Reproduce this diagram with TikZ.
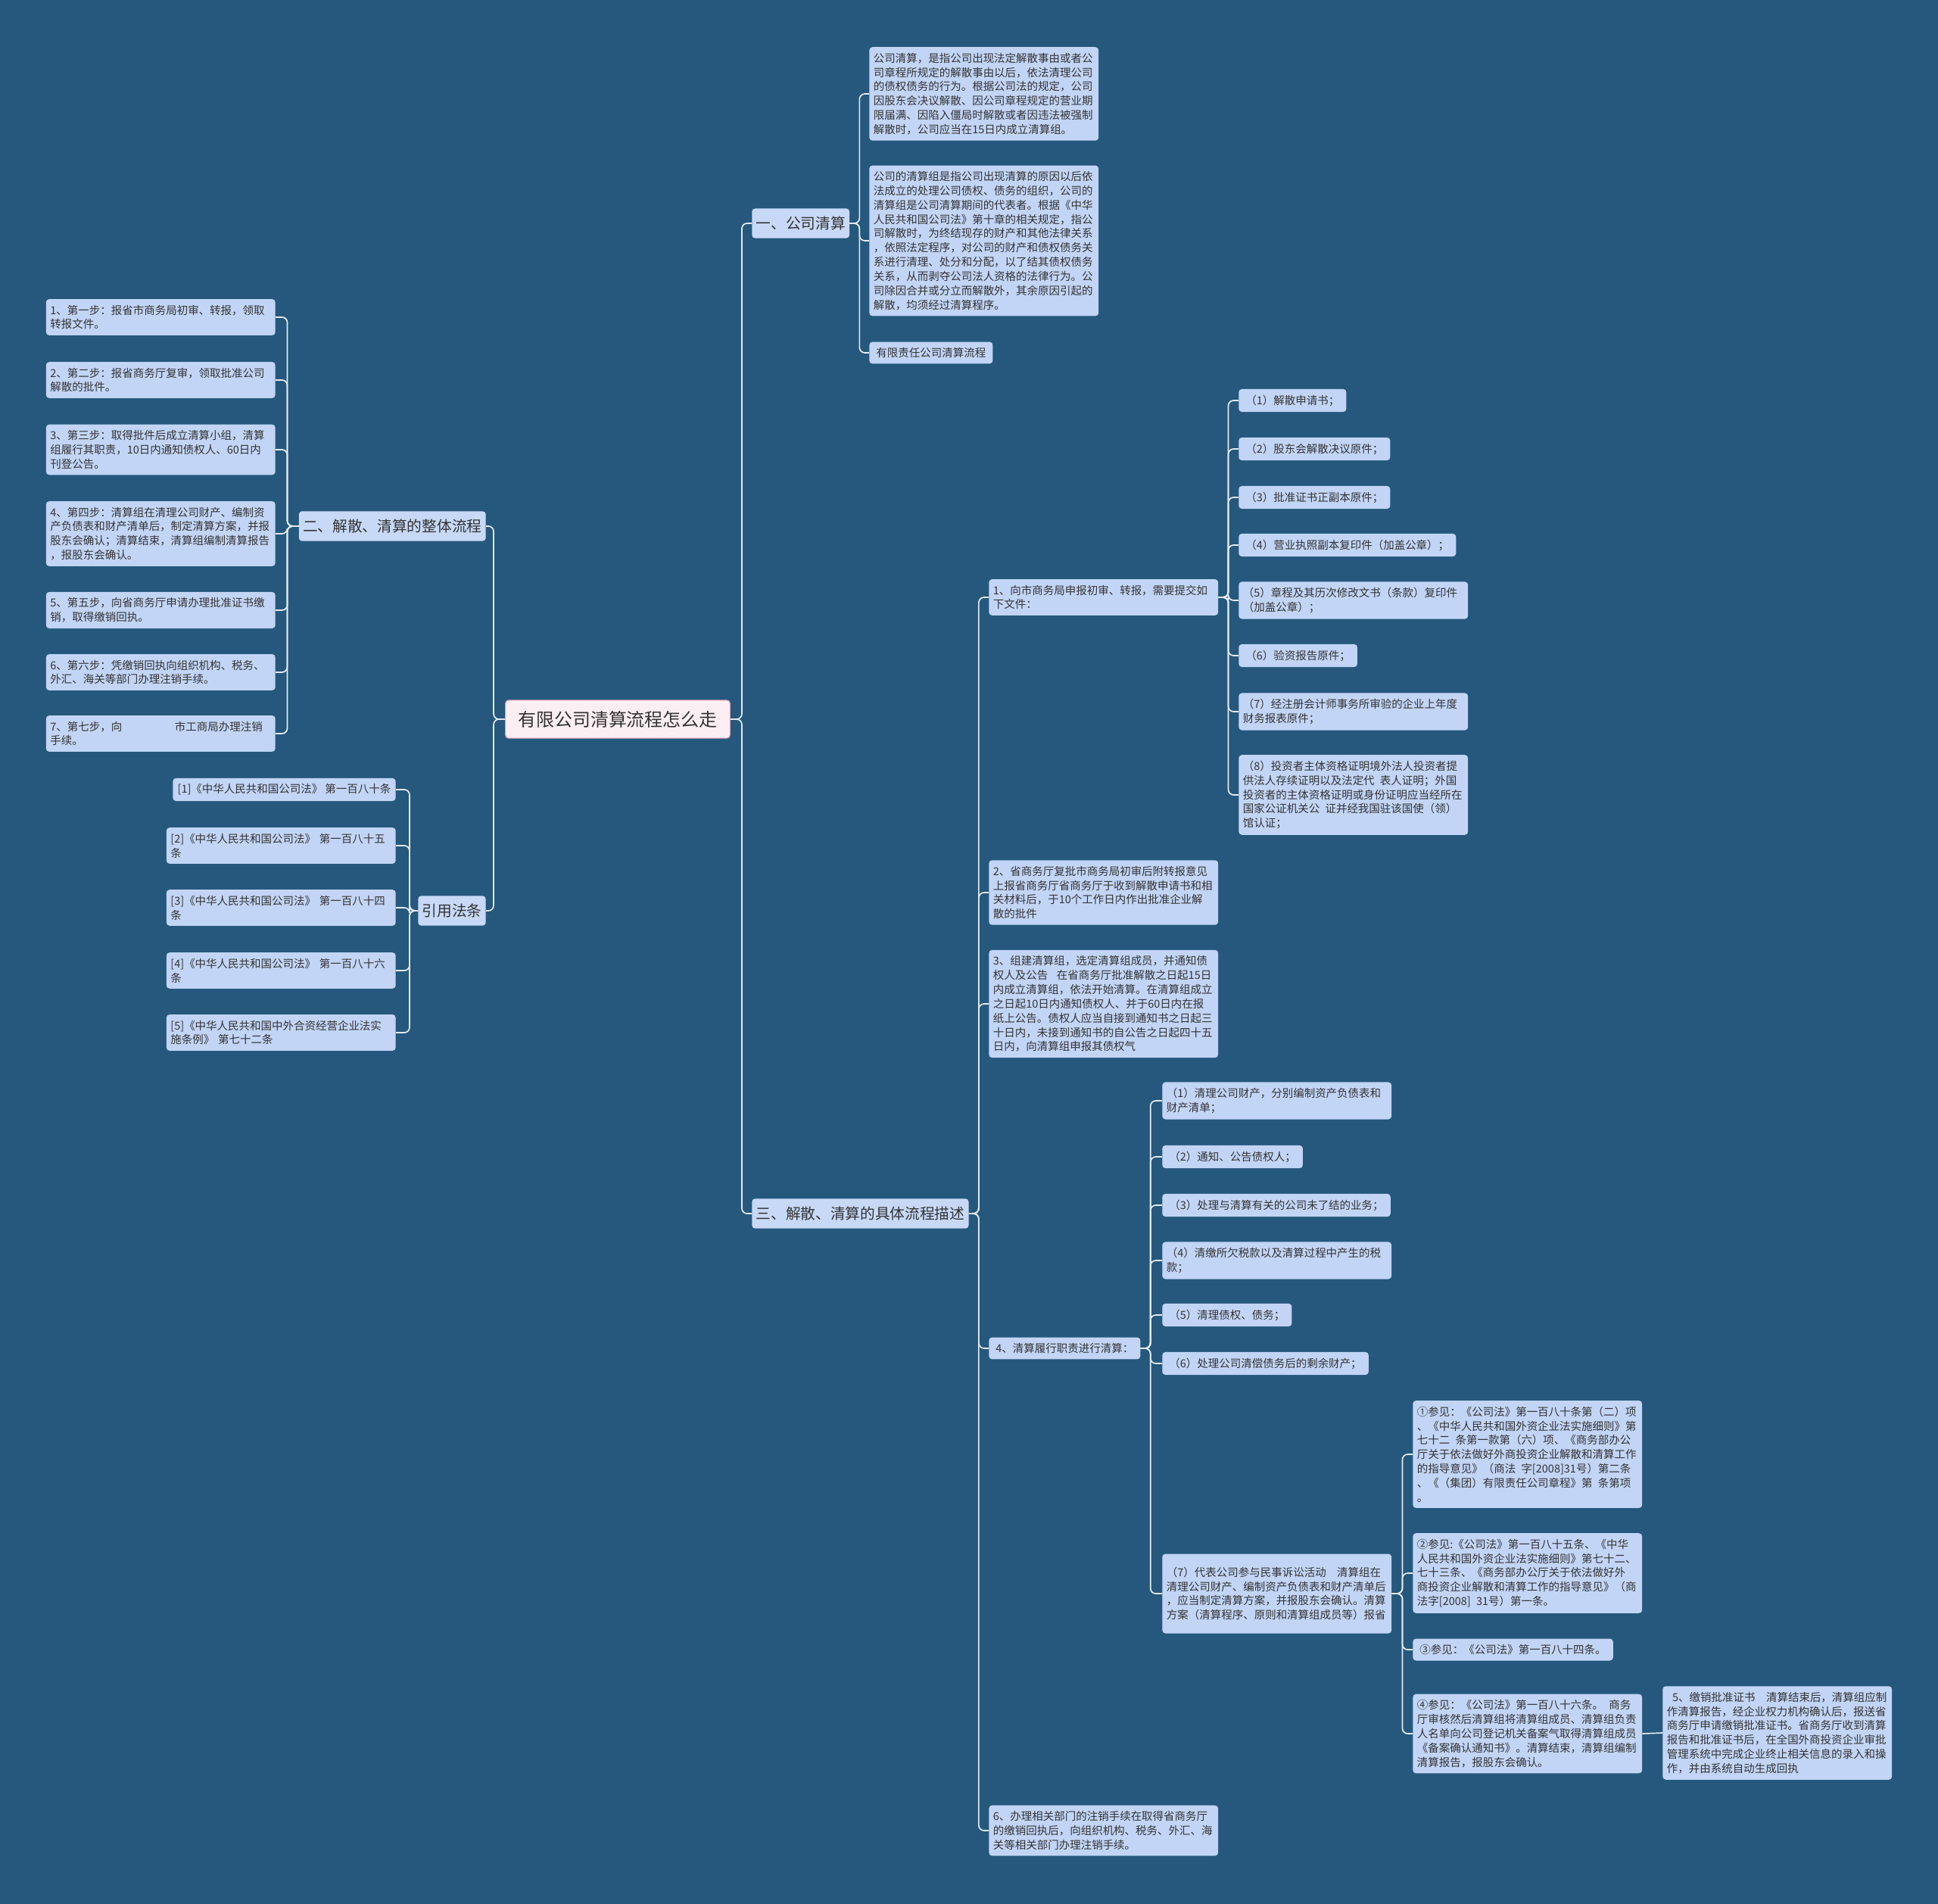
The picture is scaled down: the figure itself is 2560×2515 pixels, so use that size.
\documentclass[tikz,border=0pt]{standalone}
\usepackage{fontspec}
\setmainfont{Noto Sans CJK SC}
\definecolor{bgblue}{HTML}{25587C}
\definecolor{leaffill}{HTML}{C2D5F6}
\definecolor{topicfill}{HTML}{C7D9F7}
\definecolor{rootfill}{HTML}{FCEFF4}
\definecolor{rootedge}{HTML}{E39AB3}
\definecolor{textdark}{HTML}{333333}
\definecolor{linecol}{HTML}{E4EBF2}

\begin{document}
\begin{tikzpicture}[
    x=0.025cm, y=-0.025cm,
    rootbox/.style={rectangle, draw=rootedge, line width=0.8pt, fill=rootfill, rounded corners=3pt, inner xsep=12pt, inner ysep=10pt, font=\fontsize{17}{20}\selectfont, text=textdark},
    topic/.style={rectangle, fill=topicfill, rounded corners=3pt, inner xsep=3.8pt, inner ysep=7.5pt, font=\fontsize{14}{17}\selectfont, text=textdark},
    leaf/.style={rectangle, fill=leaffill, rounded corners=3pt, inner xsep=6.5pt, inner ysep=5.5pt, align=left, font=\fontsize{10.3}{13.4}\selectfont, text=textdark},
    wide/.style={text width=7.29cm, inner xsep=4pt},
    conn/.style={draw=linecol, line width=1.2pt, rounded corners=5pt}
  ]
    % Canvas
    \useasboundingbox (0,0) rectangle (2560,2515);
    \fill[bgblue] (0,0) rectangle (2560,2515);

    % Centre and main topics
    \node[rootbox] (root) at (816,950) {有限公司清算流程怎么走};
    \node[topic, anchor=west] (secA) at (993,295) {一、公司清算};
    \node[topic, anchor=east] (secB) at (642,695) {二、解散、清算的整体流程};
    \node[topic, anchor=east] (cite) at (642,1203) {引用法条};
    \node[topic, anchor=west] (secC) at (993,1603) {三、解散、清算的具体流程描述};

    % 一、公司清算
    \node[leaf, wide, anchor=west] (def1) at (1148,124) {公司清算，是指公司出现法定解散事由或者公\\司章程所规定的解散事由以后，依法清理公司\\的债权债务的行为。根据公司法的规定，公司\\因股东会决议解散、因公司章程规定的营业期\\限届满、因陷入僵局时解散或者因违法被强制\\解散时，公司应当在15日内成立清算组。};
    \node[leaf, wide, anchor=west] (def2) at (1148,318) {公司的清算组是指公司出现清算的原因以后依\\法成立的处理公司债权、债务的组织，公司的\\清算组是公司清算期间的代表者。根据《中华\\人民共和国公司法》第十章的相关规定，指公\\司解散时，为终结现存的财产和其他法律关系\\，依照法定程序，对公司的财产和债权债务关\\系进行清理、处分和分配，以了结其债权债务\\关系，从而剥夺公司法人资格的法律行为。公\\司除因合并或分立而解散外，其余原因引起的\\解散，均须经过清算程序。};
    \node[leaf, anchor=west] (def3) at (1148,466) {有限责任公司清算流程};

    % 二、整体流程
    \node[leaf, wide, anchor=east] (step1) at (364,419) {1、第一步：报省市商务局初审、转报，领取\\转报文件。};
    \node[leaf, wide, anchor=east] (step2) at (364,502) {2、第二步：报省商务厅复审，领取批准公司\\解散的批件。};
    \node[leaf, wide, anchor=east] (step3) at (364,594) {3、第三步：取得批件后成立清算小组，清算\\组履行其职责，10日内通知债权人、60日内\\刊登公告。};
    \node[leaf, wide, anchor=east] (step4) at (364,705) {4、第四步：清算组在清理公司财产、编制资\\产负债表和财产清单后，制定清算方案，并报\\股东会确认；清算结束，清算组编制清算报告\\，报股东会确认。};
    \node[leaf, wide, anchor=east] (step5) at (364,806) {5、第五步，向省商务厅申请办理批准证书缴\\销，取得缴销回执。};
    \node[leaf, wide, anchor=east] (step6) at (364,888) {6、第六步：凭缴销回执向组织机构、税务、\\外汇、海关等部门办理注销手续。};
    \node[leaf, wide, anchor=east] (step7) at (364,969) {7、第七步，向\hspace*{4.8em}市工商局办理注销\\手续。};

    % 引用法条
    \node[leaf, inner xsep=4.5pt, anchor=east] (law1) at (523,1043) {[1]《中华人民共和国公司法》 第一百八十条};
    \node[leaf, wide, anchor=east] (law2) at (523,1117) {[2]《中华人民共和国公司法》~第一百八十五\\条};
    \node[leaf, wide, anchor=east] (law3) at (523,1199) {[3]《中华人民共和国公司法》~第一百八十四\\条};
    \node[leaf, wide, anchor=east] (law4) at (523,1282) {[4]《中华人民共和国公司法》~第一百八十六\\条};
    \node[leaf, wide, anchor=east] (law5) at (523,1364) {[5]《中华人民共和国中外合资经营企业法实\\施条例》~第七十二条};

    % 三、具体流程
    \node[leaf, wide, anchor=west] (proc1) at (1306,789) {1、向市商务局申报初审、转报，需要提交如\\下文件：};
    \node[leaf, wide, anchor=west] (proc2) at (1306,1179) {2、省商务厅复批市商务局初审后附转报意见\\上报省商务厅省商务厅于收到解散申请书和相\\关材料后，于10个工作日内作出批准企业解\\散的批件};
    \node[leaf, wide, anchor=west] (proc3) at (1306,1326) {3、组建清算组，选定清算组成员，并通知债\\权人及公告\hspace*{0.8em}在省商务厅批准解散之日起15日\\内成立清算组，依法开始清算。在清算组成立\\之日起10日内通知债权人、并于60日内在报\\纸上公告。债权人应当自接到通知书之日起三\\十日内，未接到通知书的自公告之日起四十五\\日内，向清算组申报其债权气};
    \node[leaf, anchor=west] (proc4) at (1306,1781) {4、清算履行职责进行清算：};
    \node[leaf, wide, anchor=west] (proc6) at (1306,2418) {6、办理相关部门的注销手续在取得省商务厅\\的缴销回执后，向组织机构、税务、外汇、海\\关等相关部门办理注销手续。};

    % 提交文件
    \node[leaf, anchor=west] (file1) at (1636,529) {（1）解散申请书；};
    \node[leaf, anchor=west] (file2) at (1636,593) {（2）股东会解散决议原件；};
    \node[leaf, anchor=west] (file3) at (1636,657) {（3）批准证书正副本原件；};
    \node[leaf, anchor=west] (file4) at (1636,720) {（4）营业执照副本复印件（加盖公章）；};
    \node[leaf, wide, anchor=west] (file5) at (1636,793) {（5）章程及其历次修改文书（条款）复印件\\（加盖公章）；};
    \node[leaf, anchor=west] (file6) at (1636,866) {（6）验资报告原件；};
    \node[leaf, wide, anchor=west] (file7) at (1636,940) {（7）经注册会计师事务所审验的企业上年度\\财务报表原件；};
    \node[leaf, wide, anchor=west] (file8) at (1636,1050) {（8）投资者主体资格证明境外法人投资者提\\供法人存续证明以及法定代\hspace*{0.5em}表人证明；外国\\投资者的主体资格证明或身份证明应当经所在\\国家公证机关公\hspace*{0.5em}证并经我国驻该国使（领）\\馆认证；};

    % 清算组职责
    \node[leaf, wide, anchor=west] (duty1) at (1535,1454) {（1）清理公司财产，分别编制资产负债表和\\财产清单；};
    \node[leaf, anchor=west] (duty2) at (1535,1528) {（2）通知、公告债权人；};
    \node[leaf, anchor=west] (duty3) at (1535,1592) {（3）处理与清算有关的公司未了结的业务；};
    \node[leaf, wide, anchor=west] (duty4) at (1535,1665) {（4）清缴所欠税款以及清算过程中产生的税\\款；};
    \node[leaf, anchor=west] (duty5) at (1535,1737) {（5）清理债权、债务；};
    \node[leaf, anchor=west] (duty6) at (1535,1801) {（6）处理公司清偿债务后的剩余财产；};
    \node[leaf, wide, anchor=west, minimum height=105*0.025cm] (duty7) at (1535,2105) {（7）代表公司参与民事诉讼活动\hspace*{1em}清算组在\\清理公司财产、编制资产负债表和财产清单后\\，应当制定清算方案，并报股东会确认。清算\\方案（清算程序、原则和清算组成员等）报省};

    % 参见条文
    \node[leaf, wide, anchor=west] (ref1) at (1866,1921) {①参见：《公司法》第一百八十条第（二）项\\、《中华人民共和国外资企业法实施细则》第\\七十二\hspace*{0.5em}条第一款第（六）项、《商务部办公\\厅关于依法做好外商投资企业解散和清算工作\\的指导意见》（商法\hspace*{0.5em}字[2008]31号）第二条\\、《（集团）有限责任公司章程》第\hspace*{0.5em}条第项\\。};
    \node[leaf, wide, anchor=west] (ref2) at (1866,2078) {②参见:《公司法》第一百八十五条、《中华\\人民共和国外资企业法实施细则》第七十二、\\七十三条、《商务部办公厅关于依法做好外\\商投资企业解散和清算工作的指导意见》（商\\法字[2008]\hspace*{0.5em}31号）第一条。};
    \node[leaf, anchor=west] (ref3) at (1866,2179) {③参见：《公司法》第一百八十四条。};
    \node[leaf, wide, anchor=west] (ref4) at (1866,2290) {④参见：《公司法》第一百八十六条。\hspace*{0.5em}商务\\厅审核然后清算组将清算组成员、清算组负责\\人名单向公司登记机关备案气取得清算组成员\\《备案确认通知书》。清算结束，清算组编制\\清算报告，报股东会确认。};
    \node[leaf, wide, anchor=west] (revoke) at (2196,2289) {\hspace*{0.5em}5、缴销批准证书\hspace*{1em}清算结束后，清算组应制\\作清算报告，经企业权力机构确认后，报送省\\商务厅申请缴销批准证书。省商务厅收到清算\\报告和批准证书后，在全国外商投资企业审批\\管理系统中完成企业终止相关信息的录入和操\\作，并由系统自动生成回执};

    % Connectors from the centre
    \draw[conn] (root.east) -- ++(15,0) |- (secA.west);
    \draw[conn] (root.east) -- ++(15,0) |- (secC.west);
    \draw[conn] (root.west) -- ++(-15,0) |- (secB.east);
    \draw[conn] (root.west) -- ++(-15,0) |- (cite.east);

    % Connectors, 一
    \draw[conn] (secA.east) -- ++(13,0) |- (def1.west);
    \draw[conn] (secA.east) -- ++(13,0) |- (def2.west);
    \draw[conn] (secA.east) -- ++(13,0) |- (def3.west);

    % Connectors, 二
    \draw[conn] (secB.west) -- ++(-15,0) |- (step1.east);
    \draw[conn] (secB.west) -- ++(-15,0) |- (step2.east);
    \draw[conn] (secB.west) -- ++(-15,0) |- (step3.east);
    \draw[conn] (secB.west) -- ++(-15,0) |- (step4.east);
    \draw[conn] (secB.west) -- ++(-15,0) |- (step5.east);
    \draw[conn] (secB.west) -- ++(-15,0) |- (step6.east);
    \draw[conn] (secB.west) -- ++(-15,0) |- (step7.east);

    % Connectors, 引用法条
    \draw[conn] (cite.west) -- ++(-11,0) |- (law1.east);
    \draw[conn] (cite.west) -- ++(-11,0) |- (law2.east);
    \draw[conn] (cite.west) -- ++(-11,0) |- (law3.east);
    \draw[conn] (cite.west) -- ++(-11,0) |- (law4.east);
    \draw[conn] (cite.west) -- ++(-11,0) |- (law5.east);

    % Connectors, 三
    \draw[conn] (secC.east) -- ++(13,0) |- (proc1.west);
    \draw[conn] (secC.east) -- ++(13,0) |- (proc2.west);
    \draw[conn] (secC.east) -- ++(13,0) |- (proc3.west);
    \draw[conn] (secC.east) -- ++(13,0) |- (proc4.west);
    \draw[conn] (secC.east) -- ++(13,0) |- (proc6.west);

    \draw[conn] (proc1.east) -- ++(13,0) |- (file1.west);
    \draw[conn] (proc1.east) -- ++(13,0) |- (file2.west);
    \draw[conn] (proc1.east) -- ++(13,0) |- (file3.west);
    \draw[conn] (proc1.east) -- ++(13,0) |- (file4.west);
    \draw[conn] (proc1.east) -- ++(13,0) |- (file5.west);
    \draw[conn] (proc1.east) -- ++(13,0) |- (file6.west);
    \draw[conn] (proc1.east) -- ++(13,0) |- (file7.west);
    \draw[conn] (proc1.east) -- ++(13,0) |- (file8.west);

    \draw[conn] (proc4.east) -- ++(13,0) |- (duty1.west);
    \draw[conn] (proc4.east) -- ++(13,0) |- (duty2.west);
    \draw[conn] (proc4.east) -- ++(13,0) |- (duty3.west);
    \draw[conn] (proc4.east) -- ++(13,0) |- (duty4.west);
    \draw[conn] (proc4.east) -- ++(13,0) |- (duty5.west);
    \draw[conn] (proc4.east) -- ++(13,0) |- (duty6.west);
    \draw[conn] (proc4.east) -- ++(13,0) |- (duty7.west);

    \draw[conn] (duty7.east) -- ++(14,0) |- (ref1.west);
    \draw[conn] (duty7.east) -- ++(14,0) |- (ref2.west);
    \draw[conn] (duty7.east) -- ++(14,0) |- (ref3.west);
    \draw[conn] (duty7.east) -- ++(14,0) |- (ref4.west);
    \draw[conn] (ref4.east) -- (revoke.west);

  \end{tikzpicture}
\end{document}
